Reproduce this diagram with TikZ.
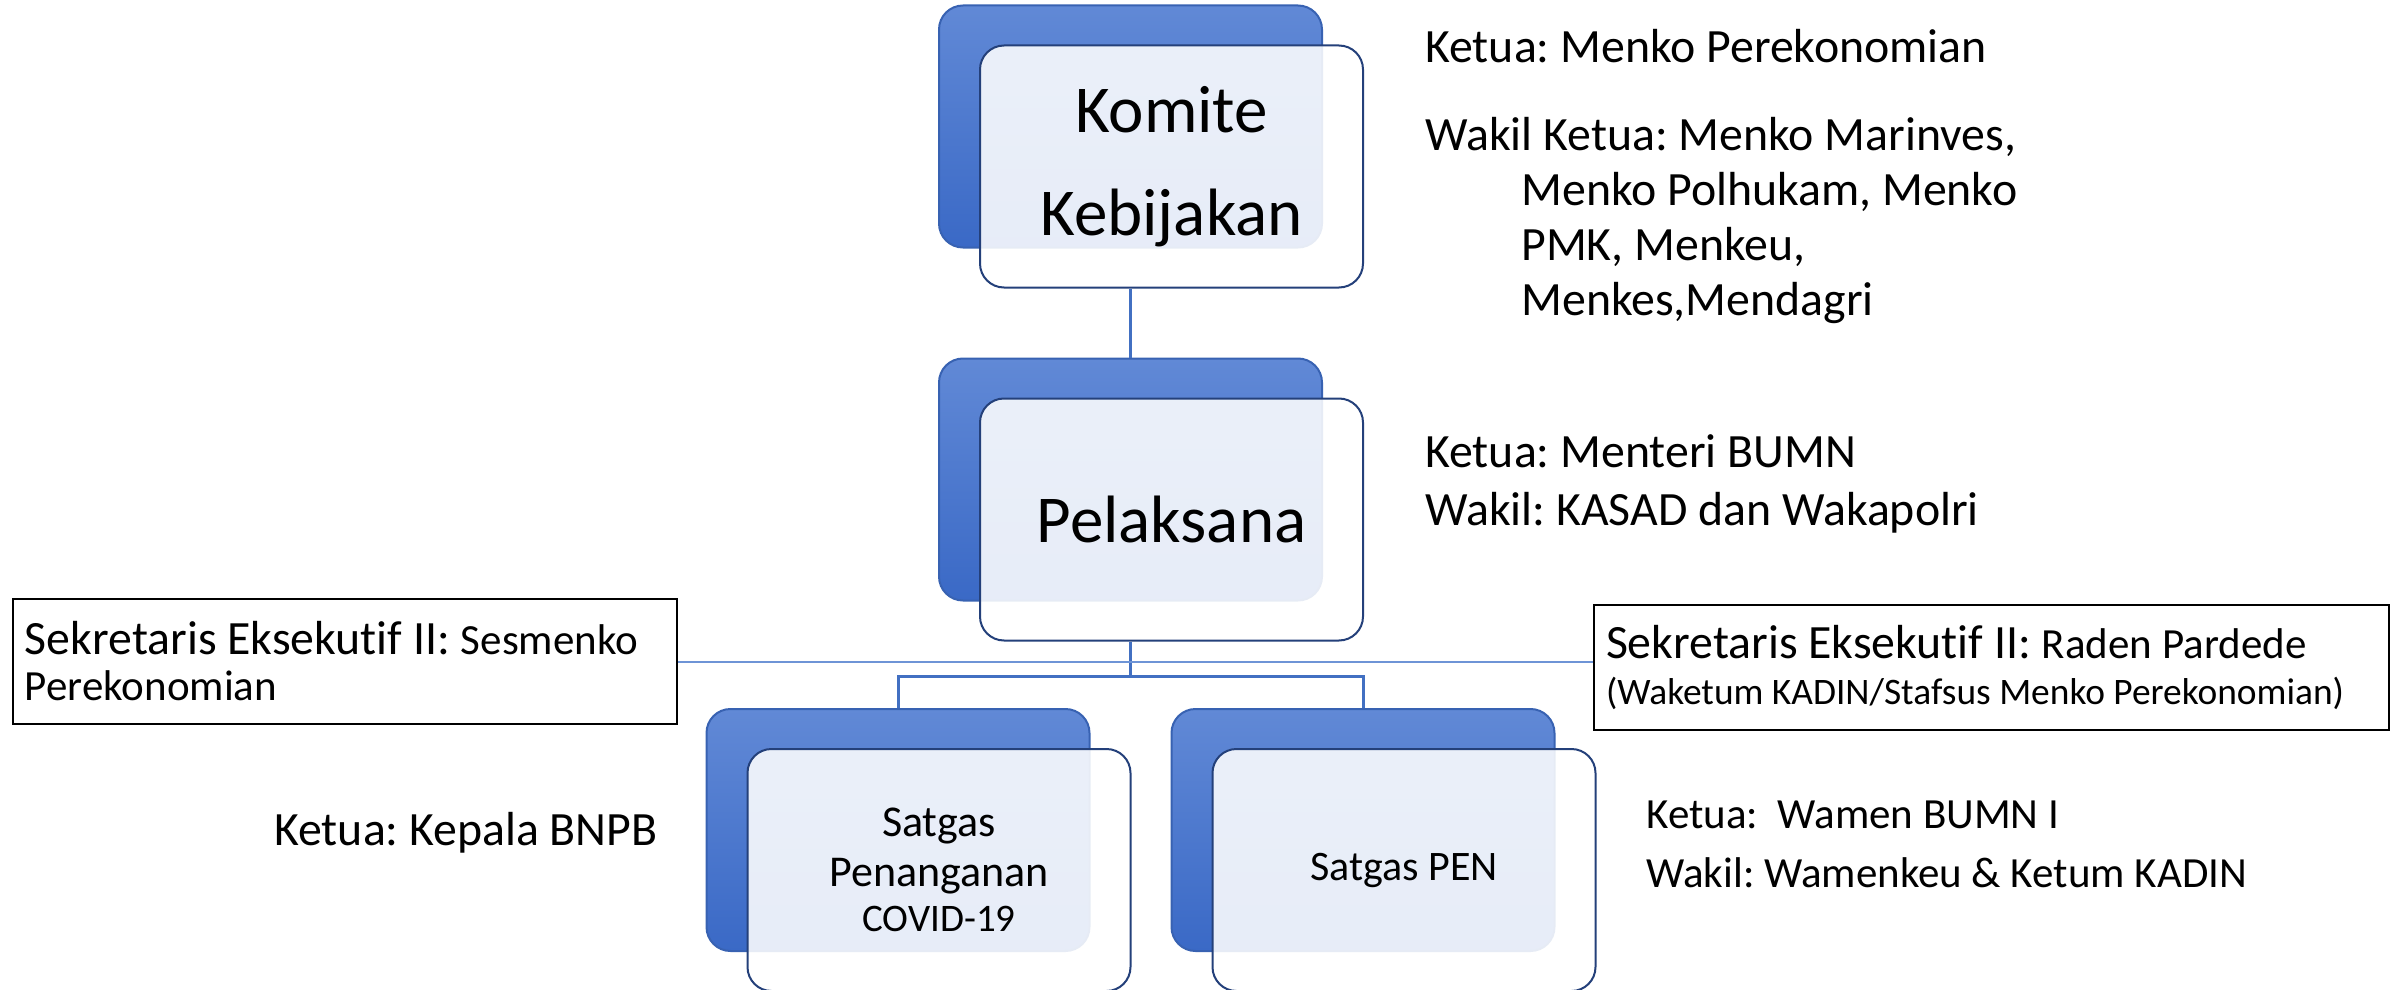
\documentclass[tikz,border=0pt]{standalone}
\usepackage{fontspec}
\setmainfont{Carlito}[Ligatures=NoCommon]
\usetikzlibrary{trees}
\usetikzlibrary{shadows}
\definecolor{linkblue}{HTML}{4270C2}
\definecolor{seclink}{HTML}{6E94D6}
\definecolor{backtop}{HTML}{6189D6}
\definecolor{backbottom}{HTML}{3A69C6}
\definecolor{backedge}{HTML}{3862B2}
\definecolor{frontedge}{HTML}{24407A}

\begin{document}
\frenchspacing
\begin{tikzpicture}
[x=0.5pt,y=0.5pt,%
  every node/.style={font=\fontsize{23.9}{27.5}\selectfont,inner sep=0pt},%
  orgbox/.style={rectangle,rounded corners=12pt,minimum width=191.5pt,minimum height=121pt,%
    draw=frontedge,line width=1pt,fill=white,fill opacity=0.88,text opacity=1,align=center,%
    copy shadow={shadow xshift=-20.5pt,shadow yshift=20pt,opacity=1,%
      top color=backtop,bottom color=backbottom,draw=backedge}},%
  edge from parent/.style={draw=linkblue,line width=1.5pt},%
  edge from parent path={([xshift=-20.5pt]\tikzparentnode.south) -- ++(0,-35)
    -| ([xshift=-20.5pt,yshift=20pt]\tikzchildnode.north)},%
  infotext/.style={anchor=base west,align=left},%
  secbox/.style={draw,line width=1pt,anchor=north west,align=flush left,inner xsep=6pt,minimum height=62.5pt}]
\useasboundingbox (0,0) rectangle (2390,-990);
\node[orgbox,font=\fontsize{33.5}{51.5}\selectfont] (komite) at (1171.5,-166.5) {Komite\\Kebijakan}
  [level distance=176.5pt]
  child {node[orgbox,font=\fontsize{33.5}{40}\selectfont] (pelaksana) {Pelaksana}
    [sibling distance=232.5pt,level distance=175.25pt]
    child {node[orgbox,font=\fontsize{22}{25}\selectfont] (satgascovid)
      {Satgas\\Penanganan\\[-2.5pt]{\fontsize{19.5}{22}\selectfont COVID-19}}}
    child {node[orgbox,font=\fontsize{21}{25}\selectfont] (satgaspen) {Satgas PEN}}
  };
\node[infotext] (komiteinfo) at (1425,-315) {Ketua: Menko Perekonomian\\[16.5pt]%
  Wakil Ketua: Menko Marinves,\\\hspace*{48pt}Menko Polhukam, Menko\\%
  \hspace*{48pt}PMK, Menkeu,\\\hspace*{48pt}Menkes,Mendagri};
\node[infotext,font=\fontsize{23.9}{29}\selectfont] (pelaksanainfo) at (1425,-525)
  {Ketua: Menteri BUMN\\Wakil: KASAD dan Wakapolri};
\node[infotext] (covidinfo) at (274,-845) {Ketua: Kepala BNPB};
\node[infotext,font=\fontsize{21.5}{29.5}\selectfont] (peninfo) at (1646,-887)
  {Ketua:\ \ Wamen BUMN I\\Wakil: Wamenkeu \& Ketum KADIN};
\node[secbox,text width=320pt,font=\fontsize{23.9}{23}\selectfont] (seckiri) at (12,-598)
  {Sekretaris Eksekutif II: {\fontsize{21.5}{23}\selectfont Sesmenko}\\{\fontsize{21.5}{23}\selectfont Perekonomian}};
\node[secbox,text width=385.5pt,font=\fontsize{23.9}{23}\selectfont] (seckanan) at (1593,-604)
  {Sekretaris Eksekutif II: {\fontsize{21.5}{23}\selectfont Raden Pardede}\\{\fontsize{18.7}{23}\selectfont (Waketum KADIN/Stafsus Menko Perekonomian)}};
\draw[seclink,line width=1pt] (seckiri.east) -- (seckiri.east -| seckanan.west);
\end{tikzpicture}
\end{document}
